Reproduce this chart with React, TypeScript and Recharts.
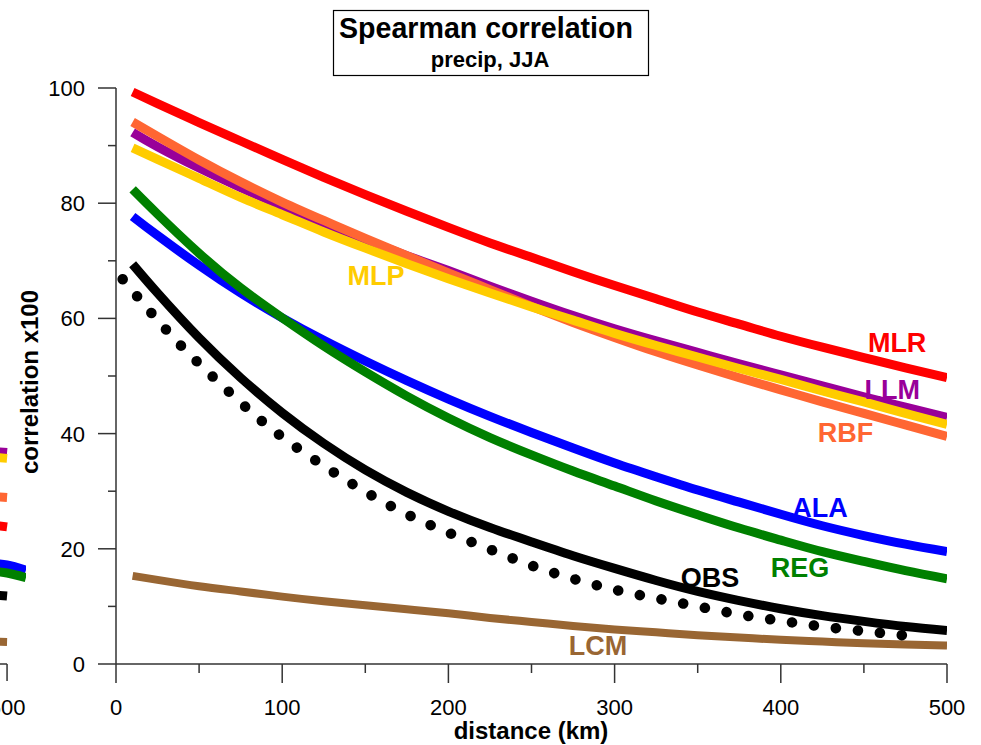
import React from 'react';
import { LineChart, Line, XAxis, YAxis, ReferenceDot } from 'recharts';

// ---------- data ----------
const DIST = [10, 25, 50, 75, 100, 125, 150, 175, 200, 225, 250, 275, 300, 325, 350, 375, 400, 425, 450, 475, 500];
const MLR = [99.3, 97.3, 94.0, 90.8, 87.6, 84.5, 81.5, 78.6, 75.8, 73.1, 70.6, 68.1, 65.7, 63.4, 61.1, 59.0, 56.9, 55.0, 53.2, 51.4, 49.7];
const RBF = [94.1, 91.6, 87.5, 83.7, 80.2, 77.0, 73.9, 70.9, 67.9, 65.0, 62.1, 59.3, 56.7, 54.2, 51.9, 49.7, 47.6, 45.5, 43.5, 41.5, 39.5];
const LLM = [92.3, 89.8, 86.1, 82.7, 79.5, 76.5, 73.6, 70.9, 68.3, 65.6, 63.0, 60.5, 58.2, 56.1, 54.1, 52.1, 50.2, 48.3, 46.4, 44.6, 42.8];
const MLP = [89.6, 87.6, 84.3, 81.0, 78.0, 75.0, 72.2, 69.5, 66.9, 64.4, 62.0, 59.7, 57.4, 55.3, 53.3, 51.3, 49.4, 47.4, 45.5, 43.5, 41.6];
const ALA = [77.7, 74.4, 69.2, 64.4, 60.1, 56.2, 52.6, 49.2, 46.0, 43.0, 40.2, 37.5, 34.9, 32.5, 30.2, 28.1, 26.0, 24.0, 22.3, 20.8, 19.5];
const REG = [82.4, 78.1, 71.3, 65.3, 60.1, 55.2, 50.7, 46.5, 42.7, 39.3, 36.3, 33.5, 30.9, 28.3, 25.9, 23.6, 21.5, 19.5, 17.8, 16.2, 14.8];
const OBS = [69.4, 64.4, 56.6, 49.7, 43.6, 38.3, 33.7, 29.8, 26.5, 23.7, 21.2, 18.8, 16.6, 14.5, 12.6, 11.0, 9.6, 8.4, 7.4, 6.5, 5.8];
const LCM = [15.3, 14.6, 13.5, 12.6, 11.7, 10.9, 10.2, 9.5, 8.8, 8.0, 7.3, 6.6, 6.0, 5.5, 5.0, 4.6, 4.2, 3.9, 3.6, 3.4, 3.2];

const DOT_DIST = [4, 22, 40, 60, 80, 100, 125, 150, 175, 200, 225, 250, 275, 300, 325, 350, 375, 400, 425, 450, 473];
const OBS_DOTTED = [66.8, 60.7, 55.0, 49.4, 44.1, 39.4, 34.4, 29.9, 26.0, 22.8, 19.9, 17.1, 14.8, 12.9, 11.4, 10.0, 8.6, 7.5, 6.5, 5.7, 5.0];

// neighbouring (cut-off) panel on the left: only its right end is visible
const LEFT_DIST = [480, 500];
const LEFT_DIST_EXT = [480, 500, 511.4];
const LEFT_LLM = [37.2, 36.7];
const LEFT_MLP = [36.2, 35.7];
const LEFT_RBF = [29.3, 28.9];
const LEFT_MLR = [24.6, 23.8];
const LEFT_ALA = [17.7, 17.2, 16.3];
const LEFT_REG = [16.3, 15.8, 15.0];
const LEFT_OBS = [12.3, 11.8];
const LEFT_LCM = [4.0, 3.8];

const X_TICKS = [0, 50, 100, 150, 200, 250, 300, 350, 400, 450, 500];
const Y_TICKS = [0, 10, 20, 30, 40, 50, 60, 70, 80, 90, 100];

const TITLE = 'Spearman correlation';
const SUBTITLE = 'precip, JJA';
const X_LABEL = 'distance (km)';
const Y_LABEL = 'correlation x100';

// ---------- styles ----------
const FONT = "'Liberation Sans', Arial, Helvetica, sans-serif";
const AX = '#333333';
const C = {
  MLR: '#ff0000',
  RBF: '#ff6633',
  LLM: '#990099',
  MLP: '#ffcc00',
  ALA: '#0000ff',
  REG: '#008000',
  OBS: '#000000',
  LCM: '#996633',
};

const pts = (xs: number[], vs: number[]) => xs.map((d, i) => ({ d, v: vs[i] }));

const XTick = (props: any) => {
  const { x, y, payload } = props;
  const v = payload.value;
  const major = v % 100 === 0;
  return (
    <g>
      <line x1={x} x2={x} y1={y} y2={y + (major ? 19 : 9)} stroke={AX} strokeWidth={1.5} />
      {major && (
        <text x={x} y={y + 51} textAnchor="middle" fontSize={22} fill="#000" fontFamily={FONT}>
          {v}
        </text>
      )}
    </g>
  );
};

const YTick = (props: any) => {
  const { x, y, payload } = props;
  const v = payload.value;
  const major = v % 20 === 0;
  return (
    <g>
      <line x1={x - (major ? 18 : 8)} x2={x} y1={y} y2={y} stroke={AX} strokeWidth={1.5} />
      {major && (
        <text x={x - 31} y={y + 8} textAnchor="end" fontSize={22} fill="#000" fontFamily={FONT}>
          {v}
        </text>
      )}
    </g>
  );
};

const LeftTick = (props: any) => {
  const { x, y, payload } = props;
  return (
    <g>
      <line x1={x - 400} x2={x} y1={y} y2={y} stroke={AX} strokeWidth={1.5} />
      <line x1={x} x2={x} y1={y} y2={y + 17} stroke={AX} strokeWidth={1.5} />
      <text x={x} y={y + 51} textAnchor="middle" fontSize={22} fill="#000" fontFamily={FONT}>
        {payload.value}
      </text>
    </g>
  );
};

const lineProps = {
  type: 'natural' as const,
  dataKey: 'v',
  dot: false,
  activeDot: false,
  isAnimationActive: false,
  strokeWidth: 9,
};

const lbl = (value: string, fill: string) => ({
  value,
  position: 'center' as const,
  fill,
  fontSize: 27,
  fontWeight: 'bold',
  fontFamily: FONT,
});

const dotProps = { r: 1, fill: 'none', stroke: 'none', ifOverflow: 'visible' as const };

export default function App() {
  return (
    <div style={{ position: 'absolute', left: 0, top: 0, width: 981, height: 745, overflow: 'hidden', background: '#fff', fontFamily: FONT }}>
      {/* cut-off neighbouring panel */}
      <div style={{ position: 'absolute', left: -824, top: 0 }}>
        <LineChart width={850} height={745} margin={{ top: 88, right: 0, bottom: 51, left: 0 }}>
          <XAxis type="number" dataKey="d" domain={[0, 511.4]} allowDataOverflow ticks={[500]} interval={0}
            tickLine={false} tickSize={0} tickMargin={0} axisLine={false} tick={<LeftTick />} height={30} />
          <YAxis type="number" domain={[0, 100]} hide />
          <Line {...lineProps} type="linear" data={pts(LEFT_DIST, LEFT_LCM)} stroke={C.LCM} strokeWidth={8} />
          <Line {...lineProps} type="linear" data={pts(LEFT_DIST, LEFT_LLM)} stroke={C.LLM} />
          <Line {...lineProps} type="linear" data={pts(LEFT_DIST, LEFT_RBF)} stroke={C.RBF} />
          <Line {...lineProps} type="linear" data={pts(LEFT_DIST, LEFT_MLP)} stroke={C.MLP} />
          <Line {...lineProps} type="linear" data={pts(LEFT_DIST, LEFT_MLR)} stroke={C.MLR} />
          <Line {...lineProps} type="monotone" data={pts(LEFT_DIST_EXT, LEFT_ALA)} stroke={C.ALA} />
          <Line {...lineProps} type="monotone" data={pts(LEFT_DIST_EXT, LEFT_REG)} stroke={C.REG} />
          <Line {...lineProps} type="linear" data={pts(LEFT_DIST, LEFT_OBS)} stroke={C.OBS} />
        </LineChart>
      </div>

      {/* main panel */}
      <div style={{ position: 'absolute', left: 0, top: 0 }}>
        <LineChart width={981} height={745} margin={{ top: 88, right: 34, bottom: 51, left: 56 }}>
          <XAxis type="number" dataKey="d" domain={[0, 500]} allowDataOverflow ticks={X_TICKS} interval={0}
            tickLine={false} tickSize={0} tickMargin={0} tick={<XTick />} height={30}
            axisLine={{ stroke: AX, strokeWidth: 1.5 }} />
          <YAxis type="number" domain={[0, 100]} ticks={Y_TICKS} interval={0} width={60}
            tickLine={false} tickSize={0} tickMargin={0} tick={<YTick />}
            axisLine={{ stroke: AX, strokeWidth: 1.5 }} />
          <Line {...lineProps} data={pts(DIST, LCM)} stroke={C.LCM} strokeWidth={8} />
          <Line {...lineProps} data={pts(DIST, LLM)} stroke={C.LLM} />
          <Line {...lineProps} data={pts(DIST, RBF)} stroke={C.RBF} />
          <Line {...lineProps} data={pts(DIST, MLP)} stroke={C.MLP} />
          <Line {...lineProps} data={pts(DIST, MLR)} stroke={C.MLR} />
          <Line {...lineProps} data={pts(DIST, ALA)} stroke={C.ALA} />
          <Line {...lineProps} data={pts(DIST, REG)} stroke={C.REG} />
          <Line {...lineProps} data={pts(DIST, OBS)} stroke={C.OBS} />
          <Line {...lineProps} data={pts(DOT_DIST, OBS_DOTTED)} stroke={C.OBS} strokeWidth={10.5}
            strokeDasharray="0.1 22" strokeLinecap="round" />
        </LineChart>
      </div>

      {/* series labels, drawn above the lines with the same scales */}
      <div style={{ position: 'absolute', left: 0, top: 0, pointerEvents: 'none' }}>
        <LineChart width={981} height={745} margin={{ top: 88, right: 34, bottom: 81, left: 116 }}>
          <XAxis type="number" dataKey="d" domain={[0, 500]} allowDataOverflow hide />
          <YAxis type="number" domain={[0, 100]} allowDataOverflow hide />
          <Line {...lineProps} data={pts(DIST, MLR)} stroke="none" />
          <ReferenceDot {...dotProps} x={470} y={55.8} label={lbl('MLR', C.MLR)} />
          <ReferenceDot {...dotProps} x={467} y={47.6} label={lbl('LLM', C.LLM)} />
          <ReferenceDot {...dotProps} x={439} y={40.2} label={lbl('RBF', C.RBF)} />
          <ReferenceDot {...dotProps} x={423.6} y={27.1} label={lbl('ALA', C.ALA)} />
          <ReferenceDot {...dotProps} x={411.5} y={16.7} label={lbl('REG', C.REG)} />
          <ReferenceDot {...dotProps} x={357.4} y={15.1} label={lbl('OBS', C.OBS)} />
          <ReferenceDot {...dotProps} x={290} y={3.3} label={lbl('LCM', C.LCM)} />
          <ReferenceDot {...dotProps} x={156.4} y={67.5} label={lbl('MLP', C.MLP)} />
        </LineChart>
      </div>

      {/* titles */}
      <svg width={981} height={745} style={{ position: 'absolute', left: 0, top: 0, pointerEvents: 'none' }}>
        <rect x={333.5} y={10.5} width={315} height={65} fill="#fff" stroke="#000" strokeWidth={1.2} />
        <text x={486} y={38} textAnchor="middle" fontSize={28.6} fontWeight="bold" fontFamily={FONT} fill="#000">{TITLE}</text>
        <text x={490} y={67} textAnchor="middle" fontSize={22} fontWeight="bold" fontFamily={FONT} fill="#000">{SUBTITLE}</text>
        <text x={531} y={739} textAnchor="middle" fontSize={24} fontWeight="bold" fontFamily={FONT} fill="#000">{X_LABEL}</text>
        <text x={0} y={0} transform="translate(38,382) rotate(-90)" textAnchor="middle" fontSize={24} fontWeight="bold" fontFamily={FONT} fill="#000">{Y_LABEL}</text>
      </svg>
    </div>
  );
}
